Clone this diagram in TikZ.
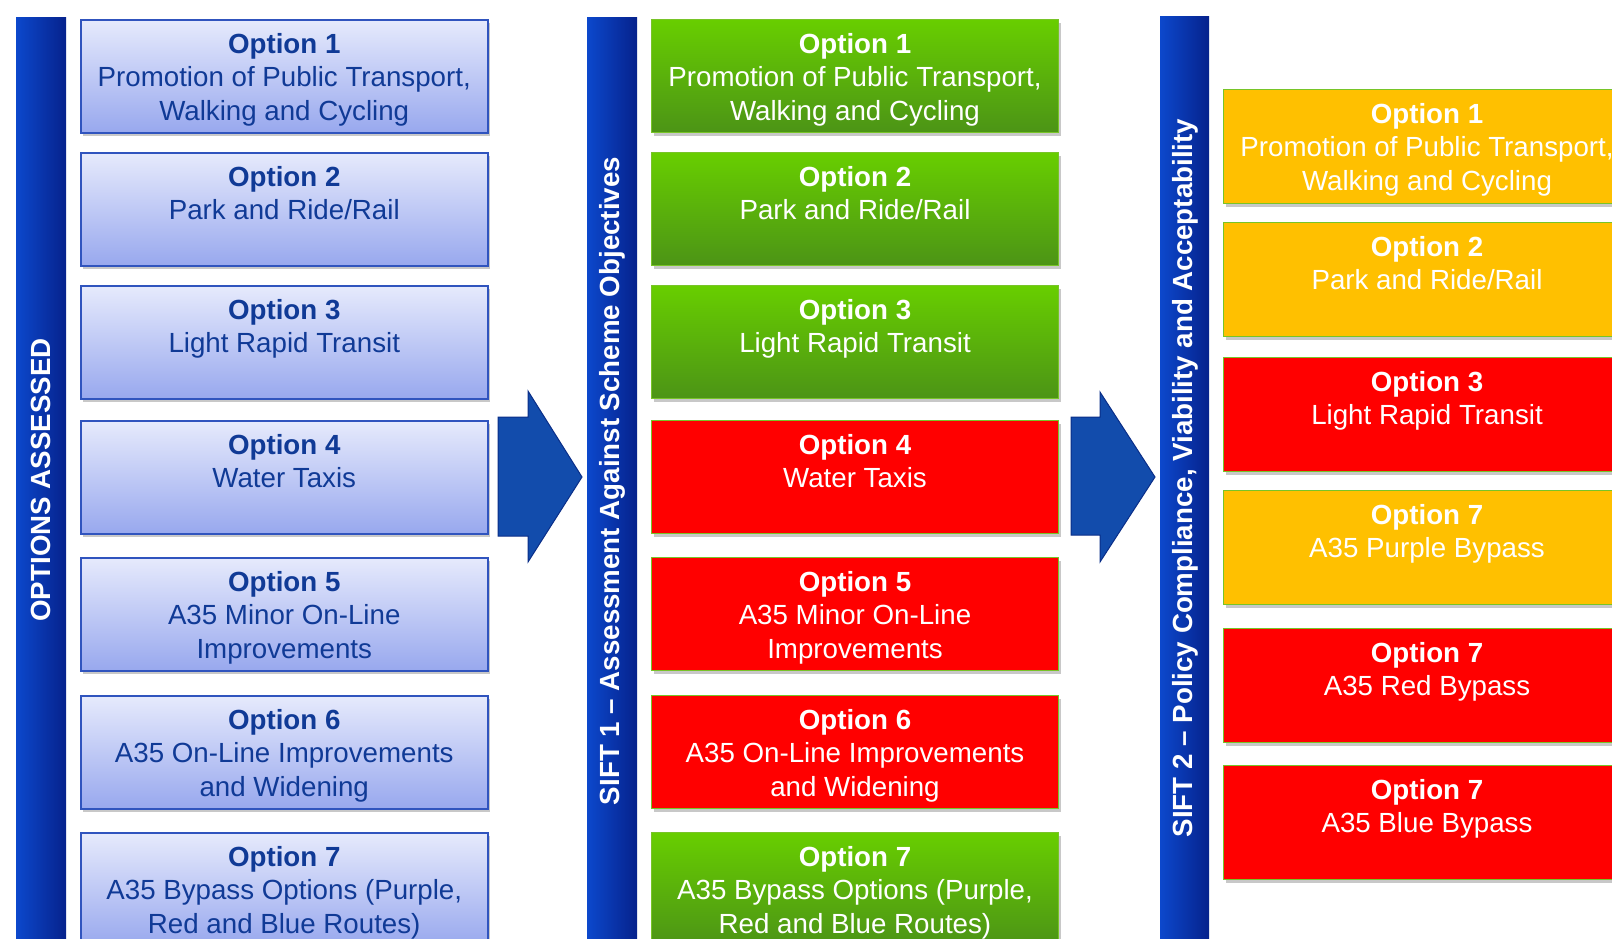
\documentclass[tikz,border=0pt]{standalone}
\usepackage{fontspec}
\setmainfont{Liberation Sans}
\usetikzlibrary{shadows}
\definecolor{lbtop}{RGB}{230,234,252}
\definecolor{lbbot}{RGB}{152,168,238}
\definecolor{lbdraw}{RGB}{48,84,190}
\definecolor{ltext}{RGB}{16,58,150}
\definecolor{gtop}{RGB}{104,206,0}
\definecolor{gbot}{RGB}{76,148,22}
\definecolor{gdraw}{RGB}{120,196,40}
\definecolor{redfill}{RGB}{255,0,0}
\definecolor{yfill}{RGB}{255,192,0}
\definecolor{bardark}{RGB}{6,34,140}
\definecolor{barlight}{RGB}{12,72,204}
\definecolor{arrfill}{RGB}{18,76,172}
\definecolor{arrdraw}{RGB}{10,46,136}
\tikzset{
  optbox/.style={rectangle, anchor=north west, inner sep=0pt, minimum width=407pt,
    drop shadow={shadow xshift=2pt, shadow yshift=-3pt, opacity=0.3, fill=black!70}},
  bluebox/.style={optbox, minimum height=113pt, top color=lbtop, bottom color=lbbot, draw=lbdraw, line width=1.5pt},
  greenbox/.style={optbox, minimum height=113pt, top color=gtop, bottom color=gbot, draw=gdraw, line width=1pt},
  redbox/.style={optbox, minimum height=113pt, fill=redfill, draw=gdraw, line width=1pt},
  redboxr/.style={optbox, minimum height=114pt, fill=redfill, draw=gdraw, line width=1pt},
  yellowbox/.style={optbox, minimum height=114pt, fill=yfill, draw=gdraw, line width=1pt},
  txt/.style={align=center, inner sep=0pt, anchor=north, font=\fontsize{27.7}{33.5}\selectfont},
  barshade/.style={left color=barlight, right color=bardark},
  bartext/.style={rotate=90, text=white, inner sep=0pt, font=\fontsize{27.7}{33.5}\selectfont\bfseries},
  bigarrow/.style={fill=arrfill, draw=arrdraw, line width=1pt, line join=miter}
}
\newcommand{\mkopt}[6]{%
  \node[#2] (#1) at (#4,#5) {};
  \node[txt, text=#3] (#1t) at ([yshift=-14pt]#1.north) {#6};
}
\begin{document}
\begin{tikzpicture}[x=1pt, y=-1pt]
\useasboundingbox (0,0) rectangle (1612,938);
\fill[white] (0,0) rectangle (1612,938);
\clip (0,0) rectangle (1612,938);

% bars
\shade[barshade] (16,17) rectangle (66,945);
\shade[barshade] (587,17) rectangle (637,945);
\shade[barshade] (1160,16) rectangle (1209,945);
\node[bartext] (barA) at (41,480) {OPTIONS ASSESSED};
\node[bartext] (barB) at (612,481) {SIFT 1 – Assessment Against Scheme Objectives};
\node[bartext] (barC) at (1185,478) {SIFT 2 – Policy Compliance, Viability and Acceptability};

% arrows
\draw[bigarrow] (498,417) -- (528,417) -- (528,391) -- (582,477) -- (528,562) -- (528,536) -- (498,536) -- cycle;
\draw[bigarrow] (1071,417) -- (1100,417) -- (1100,392) -- (1155,477) -- (1100,562) -- (1100,535) -- (1071,535) -- cycle;

% left column
\mkopt{a1}{bluebox}{ltext}{80}{19}{\textbf{Option 1}\\Promotion of Public Transport,\\Walking and Cycling}
\mkopt{a2}{bluebox}{ltext}{80}{152}{\textbf{Option 2}\\Park and Ride/Rail}
\mkopt{a3}{bluebox}{ltext}{80}{285}{\textbf{Option 3}\\Light Rapid Transit}
\mkopt{a4}{bluebox}{ltext}{80}{420}{\textbf{Option 4}\\Water Taxis}
\mkopt{a5}{bluebox}{ltext}{80}{557}{\textbf{Option 5}\\A35 Minor On-Line\\Improvements}
\mkopt{a6}{bluebox}{ltext}{80}{695}{\textbf{Option 6}\\A35 On-Line Improvements\\and Widening}
\mkopt{a7}{bluebox}{ltext}{80}{832}{\textbf{Option 7}\\A35 Bypass Options (Purple,\\Red and Blue Routes)}

% middle column
\mkopt{b1}{greenbox}{white}{651}{19}{\textbf{Option 1}\\Promotion of Public Transport,\\Walking and Cycling}
\mkopt{b2}{greenbox}{white}{651}{152}{\textbf{Option 2}\\Park and Ride/Rail}
\mkopt{b3}{greenbox}{white}{651}{285}{\textbf{Option 3}\\Light Rapid Transit}
\mkopt{b4}{redbox}{white}{651}{420}{\textbf{Option 4}\\Water Taxis}
\mkopt{b5}{redbox}{white}{651}{557}{\textbf{Option 5}\\A35 Minor On-Line\\Improvements}
\mkopt{b6}{redbox}{white}{651}{695}{\textbf{Option 6}\\A35 On-Line Improvements\\and Widening}
\mkopt{b7}{greenbox}{white}{651}{832}{\textbf{Option 7}\\A35 Bypass Options (Purple,\\Red and Blue Routes)}

% right column
\mkopt{c1}{yellowbox}{white}{1223}{89}{\textbf{Option 1}\\Promotion of Public Transport,\\Walking and Cycling}
\mkopt{c2}{yellowbox}{white}{1223}{222}{\textbf{Option 2}\\Park and Ride/Rail}
\mkopt{c3}{redboxr}{white}{1223}{357}{\textbf{Option 3}\\Light Rapid Transit}
\mkopt{c4}{yellowbox}{white}{1223}{490}{\textbf{Option 7}\\A35 Purple Bypass}
\mkopt{c5}{redboxr}{white}{1223}{628}{\textbf{Option 7}\\A35 Red Bypass}
\mkopt{c6}{redboxr}{white}{1223}{765}{\textbf{Option 7}\\A35 Blue Bypass}
\end{tikzpicture}
\end{document}
